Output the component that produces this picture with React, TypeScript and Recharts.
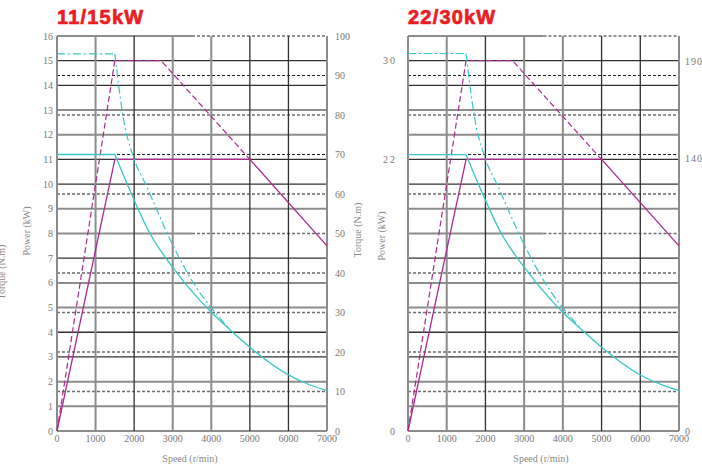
import { LineChart, Line, XAxis, YAxis, ReferenceLine } from "recharts";

// ---- axes ----
const speedTicks = [0, 1000, 2000, 3000, 4000, 5000, 6000, 7000];
const powerTicksA = [0, 1, 2, 3, 4, 5, 6, 7, 8, 9, 10, 11, 12, 13, 14, 15, 16];
const torqueTicksA = [0, 10, 20, 30, 40, 50, 60, 70, 80, 90, 100];
const powerTicksB = [0, 22, 30];
const torqueTicksB = [0, 140, 190];

// ---- grid rows, in the 11/15kW power scale (0..16) ----
const gridRows = [0, 1, 2, 3, 4, 5, 6, 7, 9, 10, 11, 12, 13, 14, 15];
const gridRowTone = ["g", "g", "g", "d", "d", "g", "g", "d", "g", "d", "d", "g", "g", "d", "d"];
const dashedRows = [1.6, 3.2, 4.8, 6.4, 9.6, 11.2, 12.8, 14.4];
const dashedRowTone = ["g", "d", "g", "d", "d", "d", "g", "d"];
const halfRows = [8, 16];
const halfSplit = 3500;
const gridColTone = ["g", "g", "d", "g", "g", "d", "d", "g"];

// ---- 11/15kW : power (kW) ----
const s1PowerA = [
  { speed: 0, value: 0 },
  { speed: 1500, value: 11 },
  { speed: 5000, value: 11 },
  { speed: 7000, value: 7.5 },
];
const s6PowerA = [
  { speed: 0, value: 0 },
  { speed: 1500, value: 15 },
  { speed: 2700, value: 15 },
  { speed: 5000, value: 11 },
];
// ---- 11/15kW : torque (N.m) ----
const s1TorqueFlatA = [
  { speed: 0, value: 70 },
  { speed: 1500, value: 70 },
];
const s1TorqueCurveA = [
  { speed: 1500, value: 70 },
  { speed: 1980, value: 58.9 },
  { speed: 2410, value: 50 },
  { speed: 2970, value: 41.8 },
  { speed: 3710, value: 33 },
  { speed: 4050, value: 29.6 },
  { speed: 4490, value: 25.6 },
  { speed: 5000, value: 21.2 },
  { speed: 6000, value: 14.2 },
  { speed: 6500, value: 11.9 },
  { speed: 7000, value: 10.2 },
];
const s6TorqueFlatA = [
  { speed: 0, value: 95.5 },
  { speed: 1500, value: 95.5 },
];
const s6TorqueCurveA = [
  { speed: 1500, value: 95.5 },
  { speed: 1720, value: 79.2 },
  { speed: 1980, value: 69.4 },
  { speed: 2330, value: 61.8 },
  { speed: 3020, value: 46.7 },
  { speed: 3710, value: 34.9 },
  { speed: 3880, value: 32.7 },
  { speed: 4490, value: 25.6 },
];

// ---- 22/30kW : power (kW) ----
const s1PowerB = [
  { speed: 0, value: 0 },
  { speed: 1500, value: 22 },
  { speed: 5000, value: 22 },
  { speed: 7000, value: 15 },
];
const s6PowerB = [
  { speed: 0, value: 0 },
  { speed: 1500, value: 30 },
  { speed: 2700, value: 30 },
  { speed: 5000, value: 22 },
];
// ---- 22/30kW : torque (N.m) ----
const s1TorqueFlatB = [
  { speed: 0, value: 142 },
  { speed: 1500, value: 142 },
];
const s1TorqueCurveB = [
  { speed: 1500, value: 142 },
  { speed: 1980, value: 119.5 },
  { speed: 2410, value: 101.5 },
  { speed: 2970, value: 85 },
  { speed: 3710, value: 67 },
  { speed: 4050, value: 60 },
  { speed: 4490, value: 52 },
  { speed: 5000, value: 43 },
  { speed: 6000, value: 28.8 },
  { speed: 6500, value: 24.2 },
  { speed: 7000, value: 20.7 },
];
const s6TorqueFlatB = [
  { speed: 0, value: 194 },
  { speed: 1500, value: 194 },
];
const s6TorqueCurveB = [
  { speed: 1500, value: 194 },
  { speed: 1720, value: 161 },
  { speed: 1980, value: 141 },
  { speed: 2330, value: 125.5 },
  { speed: 3020, value: 95 },
  { speed: 3710, value: 71 },
  { speed: 3880, value: 66.4 },
  { speed: 4490, value: 52 },
];

const MAGENTA = "#ab2a8e";
const CYAN = "#38c6c6";
const GRAY = "#8c8c8c";
const DARK = "#303030";
const SERIF = "'Liberation Serif', 'Times New Roman', serif";

const tone = (t: string) =>
  t === "g" ? { stroke: GRAY, strokeWidth: 2 } : { stroke: DARK, strokeWidth: 1.3 };
const dashTone = (t: string) =>
  t === "g"
    ? { stroke: "#6e6e6e", strokeWidth: 1.5, strokeDasharray: "3 2" }
    : { stroke: "#1e1e1e", strokeWidth: 1.2, strokeDasharray: "3 2" };

type Pt = { speed: number; value: number };

interface PanelProps {
  width: number;
  margin: { top: number; right: number; bottom: number; left: number };
  leftW: number;
  rightW: number;
  leftTick: { size: number; margin: number; spacing: number };
  rightTick: { size: number; margin: number; spacing: number };
  gridScale: number;
  powerDomain: number[];
  powerTicks: number[];
  torqueDomain: number[];
  torqueTicks: number[];
  s1Power: Pt[];
  s6Power: Pt[];
  s1Flat: Pt[];
  s1Curve: Pt[];
  s6Flat: Pt[];
  s6Curve: Pt[];
}

function Panel(p: PanelProps) {
  const tickStyle = { fill: "#777", fontSize: 10, fontFamily: SERIF };
  const k = p.gridScale;
  return (
    <LineChart width={p.width} height={464} margin={p.margin}>
      <XAxis
        xAxisId="s"
        dataKey="speed"
        type="number"
        domain={[0, 7000]}
        ticks={speedTicks}
        axisLine={false}
        tickLine={false}
        tickSize={4}
        tickMargin={0}
        height={20}
        tick={tickStyle}
        interval={0}
      />
      <YAxis
        yAxisId="p"
        orientation="left"
        type="number"
        domain={p.powerDomain}
        ticks={p.powerTicks}
        width={p.leftW}
        axisLine={false}
        tickLine={false}
        tickSize={p.leftTick.size}
        tickMargin={p.leftTick.margin}
        interval={0}
        tick={{ ...tickStyle, letterSpacing: p.leftTick.spacing }}
      />
      <YAxis
        yAxisId="t"
        orientation="right"
        type="number"
        domain={p.torqueDomain}
        ticks={p.torqueTicks}
        width={p.rightW}
        axisLine={false}
        tickLine={false}
        tickSize={p.rightTick.size}
        tickMargin={p.rightTick.margin}
        interval={0}
        tick={{ ...tickStyle, textAnchor: "start", letterSpacing: p.rightTick.spacing }}
      />

      {/* grid */}
      {gridRows.map((r, i) => (
        <ReferenceLine key={"r" + r} xAxisId="s" yAxisId="p" y={r * k} {...tone(gridRowTone[i])} />
      ))}
      {dashedRows.map((r, i) => (
        <ReferenceLine key={"d" + r} xAxisId="s" yAxisId="p" y={r * k} {...dashTone(dashedRowTone[i])} />
      ))}
      {halfRows.map((r) => (
        <ReferenceLine
          key={"hs" + r}
          xAxisId="s"
          yAxisId="p"
          segment={[{ x: 0, y: r * k }, { x: halfSplit, y: r * k }]}
          {...tone("g")}
        />
      ))}
      {halfRows.map((r) => (
        <ReferenceLine
          key={"hd" + r}
          xAxisId="s"
          yAxisId="p"
          segment={[{ x: halfSplit, y: r * k }, { x: 7000, y: r * k }]}
          {...dashTone("g")}
        />
      ))}
      {speedTicks.map((s, i) => (
        <ReferenceLine key={"c" + s} xAxisId="s" yAxisId="p" x={s} {...tone(gridColTone[i])} />
      ))}

      {/* power */}
      <Line xAxisId="s" yAxisId="p" data={p.s1Power} dataKey="value" type="linear" stroke={MAGENTA} strokeWidth={1.3} dot={false} activeDot={false} isAnimationActive={false} />
      <Line xAxisId="s" yAxisId="p" data={p.s6Power} dataKey="value" type="linear" stroke={MAGENTA} strokeWidth={1.2} strokeDasharray="6 3" dot={false} activeDot={false} isAnimationActive={false} />

      {/* torque */}
      <Line xAxisId="s" yAxisId="t" data={p.s1Flat} dataKey="value" type="linear" stroke={CYAN} strokeWidth={1.3} dot={false} activeDot={false} isAnimationActive={false} />
      <Line xAxisId="s" yAxisId="t" data={p.s1Curve} dataKey="value" type="monotone" stroke={CYAN} strokeWidth={1.3} dot={false} activeDot={false} isAnimationActive={false} />
      <Line xAxisId="s" yAxisId="t" data={p.s6Flat} dataKey="value" type="linear" stroke={CYAN} strokeWidth={1.2} strokeDasharray="8 3 2 3" dot={false} activeDot={false} isAnimationActive={false} />
      <Line xAxisId="s" yAxisId="t" data={p.s6Curve} dataKey="value" type="monotone" stroke={CYAN} strokeWidth={1.2} strokeDasharray="8 3 2 3" dot={false} activeDot={false} isAnimationActive={false} />
    </LineChart>
  );
}

const titleStyle = {
  position: "absolute" as const,
  top: 7,
  fontFamily: "'Liberation Sans', Arial, sans-serif",
  fontWeight: 700,
  fontSize: 20,
  lineHeight: "20px",
  letterSpacing: "1.2px",
  color: "#ec1c24",
  WebkitTextStroke: "0.7px #ec1c24",
};

export default function App() {
  const label = { fill: "#888", fontSize: 10, fontFamily: SERIF };
  return (
    <div style={{ position: "absolute", left: 0, top: 0, width: 702, height: 464, background: "#fff", overflow: "hidden" }}>
      <div style={{ position: "absolute", left: 0, top: 0 }}>
        <Panel
          width={360}
          margin={{ top: 36, right: 0, bottom: 13, left: 37 }}
          leftW={20}
          rightW={33}
          leftTick={{ size: 4, margin: 0, spacing: 0 }}
          rightTick={{ size: 6, margin: 2, spacing: 0 }}
          gridScale={1}
          powerDomain={[0, 16]}
          powerTicks={powerTicksA}
          torqueDomain={[0, 100]}
          torqueTicks={torqueTicksA}
          s1Power={s1PowerA}
          s6Power={s6PowerA}
          s1Flat={s1TorqueFlatA}
          s1Curve={s1TorqueCurveA}
          s6Flat={s6TorqueFlatA}
          s6Curve={s6TorqueCurveA}
        />
      </div>
      <div style={{ position: "absolute", left: 360, top: 0 }}>
        <Panel
          width={342}
          margin={{ top: 36, right: 0, bottom: 13, left: 18 }}
          leftW={30}
          rightW={23}
          leftTick={{ size: 11, margin: 0, spacing: 2 }}
          rightTick={{ size: 4, margin: 2, spacing: 1 }}
          gridScale={2}
          powerDomain={[0, 32]}
          powerTicks={powerTicksB}
          torqueDomain={[0, 203]}
          torqueTicks={torqueTicksB}
          s1Power={s1PowerB}
          s6Power={s6PowerB}
          s1Flat={s1TorqueFlatB}
          s1Curve={s1TorqueCurveB}
          s6Flat={s6TorqueFlatB}
          s6Curve={s6TorqueCurveB}
        />
      </div>

      <div style={{ ...titleStyle, left: 57 }}>11/15kW</div>
      <div style={{ ...titleStyle, left: 408 }}>22/30kW</div>

      <svg width={702} height={464} style={{ position: "absolute", left: 0, top: 0, pointerEvents: "none" }}>
        <text {...label} textAnchor="middle" dominantBaseline="central" transform="translate(26,231) rotate(-90)">Power (kW)</text>
        <text {...label} textAnchor="middle" dominantBaseline="central" transform="translate(1,272) rotate(-90)">Torque (N.m)</text>
        <text {...label} textAnchor="middle" dominantBaseline="central" transform="translate(357,230) rotate(-90)">Torque (N.m)</text>
        <text {...label} textAnchor="middle" dominantBaseline="central" transform="translate(381,236) rotate(-90)">Power (kW)</text>
        <text {...label} textAnchor="middle" dominantBaseline="central" x={190} y={458}>Speed (r/min)</text>
        <text {...label} textAnchor="middle" dominantBaseline="central" x={541} y={458}>Speed (r/min)</text>
      </svg>
    </div>
  );
}
